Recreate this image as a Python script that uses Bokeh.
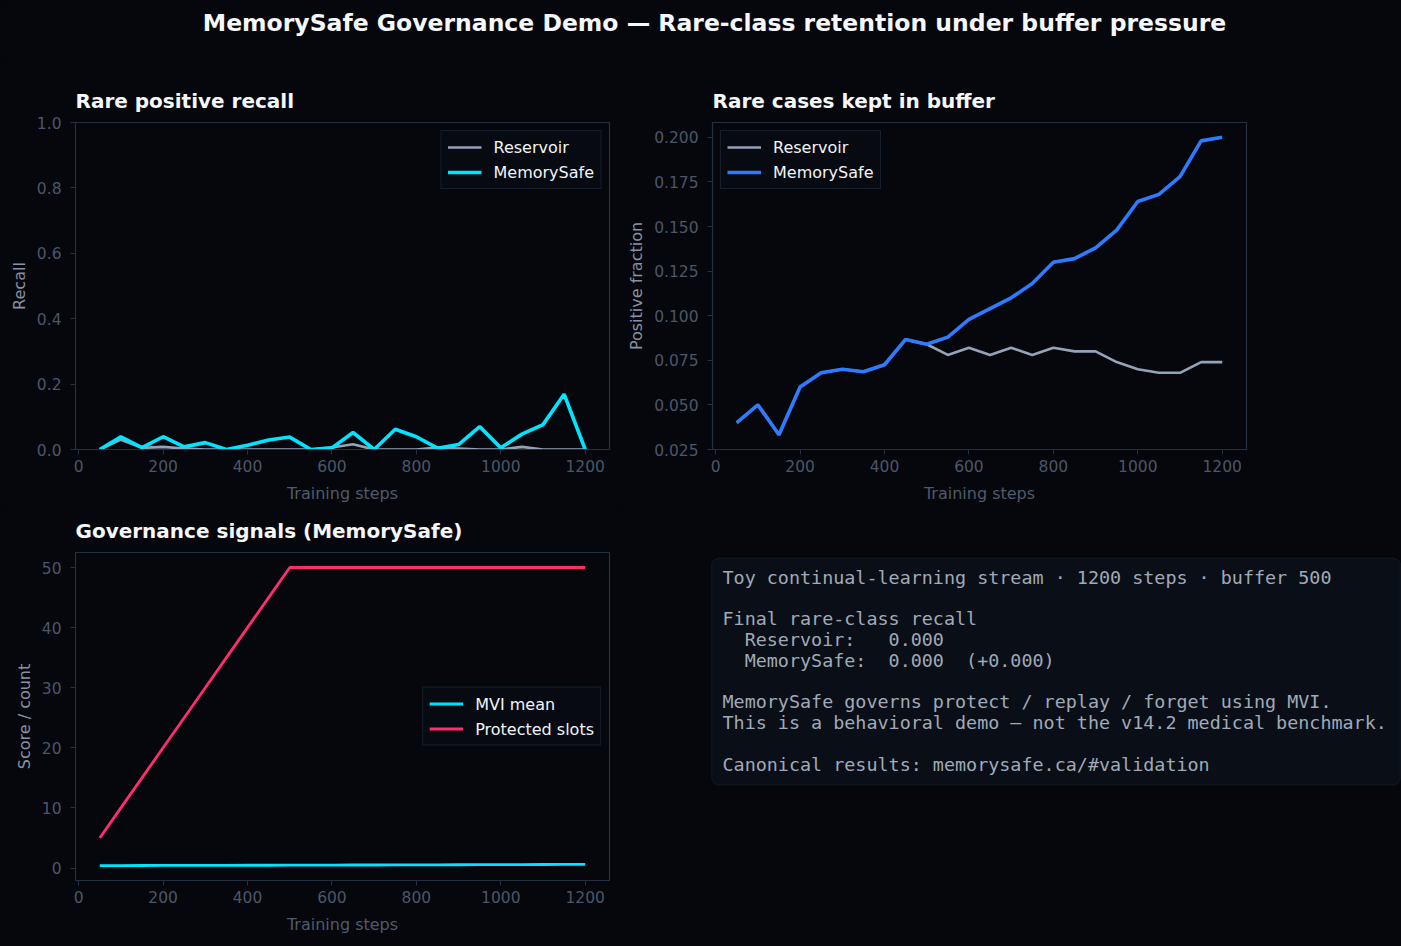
import re
from bokeh.plotting import figure
from bokeh.layouts import column, row
from bokeh.models import Range1d, FixedTicker, NumeralTickFormatter, BoxAnnotation, ColumnDataSource
from bokeh.core.properties import value
from bokeh.embed import file_html
from bokeh.resources import INLINE

# ---------------- data ----------------
steps = [50, 100, 150, 200, 250, 300, 350, 400, 450, 500, 550, 600,
         650, 700, 750, 800, 850, 900, 950, 1000, 1050, 1100, 1150, 1200]

reservoir_recall = [0.0, 0.030, 0.005, 0.008, 0.003, 0.0, 0.0, 0.0, 0.0, 0.0, 0.0, 0.006,
                    0.016, 0.0, 0.0, 0.0, 0.006, 0.003, 0.0, 0.0, 0.008, 0.0, 0.0, 0.0]
memsafe_recall = [0.0, 0.039, 0.006, 0.039, 0.008, 0.021, 0.0, 0.013, 0.029, 0.038, 0.0, 0.005,
                  0.052, 0.0, 0.062, 0.039, 0.004, 0.015, 0.070, 0.005, 0.047, 0.076, 0.169, 0.0]

reservoir_frac = [0.040, 0.050, 0.0333, 0.060, 0.068, 0.070, 0.0686, 0.0725, 0.0867, 0.084, 0.078, 0.082,
                  0.078, 0.082, 0.078, 0.082, 0.080, 0.080, 0.074, 0.070, 0.068, 0.068, 0.074, 0.074]
memsafe_frac = [0.040, 0.050, 0.0333, 0.060, 0.068, 0.070, 0.0686, 0.0725, 0.0867, 0.084, 0.088, 0.098,
                0.104, 0.110, 0.118, 0.130, 0.132, 0.138, 0.148, 0.164, 0.168, 0.178, 0.198, 0.200]

mvi_mean = [0.40, 0.41, 0.42, 0.43, 0.43, 0.44, 0.45, 0.46, 0.46, 0.47, 0.48, 0.49,
            0.50, 0.50, 0.51, 0.52, 0.53, 0.54, 0.55, 0.56, 0.57, 0.58, 0.59, 0.60]
protected_slots = [5, 10, 15, 20, 25, 30, 35, 40, 45, 50, 50, 50,
                   50, 50, 50, 50, 50, 50, 50, 50, 50, 50, 50, 50]

x_ticks = [0, 200, 400, 600, 800, 1000, 1200]
recall_ticks = [0.0, 0.2, 0.4, 0.6, 0.8, 1.0]
frac_ticks = [0.025, 0.050, 0.075, 0.100, 0.125, 0.150, 0.175, 0.200]
score_ticks = [0, 10, 20, 30, 40, 50]

suptitle = "MemorySafe Governance Demo \u2014 Rare-class retention under buffer pressure"
panel_lines = [
    "Toy continual-learning stream \u00b7 1200 steps \u00b7 buffer 500",
    "",
    "Final rare-class recall",
    "  Reservoir:   0.000",
    "  MemorySafe:  0.000  (+0.000)",
    "",
    "MemorySafe governs protect / replay / forget using MVI.",
    "This is a behavioral demo \u2014 not the v14.2 medical benchmark.",
    "",
    "Canonical results: memorysafe.ca/#validation",
]

# ---------------- style ----------------
BG = "#05070c"
SPINE = "#243040"
TICK_TXT = "#4b5668"
XLAB = "#4f5a6c"
YLAB = "#8892a4"
TITLE_C = "#f5f7fa"
FONT = "DejaVu Sans"
C_RES = "#94a3b8"
C_CYAN = "#00e5ff"
C_BLUE = "#2f7bff"
C_PINK = "#ff2d6f"


def make_fig(width, height, yr, borders, title):
    left, right, top, bottom = borders
    p = figure(width=width, height=height, x_range=Range1d(-7.5, 1257.5), y_range=yr,
               output_backend="svg", toolbar_location=None,
               min_border_left=left, min_border_right=right,
               min_border_top=top, min_border_bottom=bottom,
               background_fill_color=BG, border_fill_color=BG,
               outline_line_color=SPINE, outline_line_width=1.2, title=title)
    p.title.align = "left"
    p.title.vertical_align = "bottom"
    p.title.text_font = FONT
    p.title.text_font_size = "20px"
    p.title.text_font_style = "bold"
    p.title.text_color = TITLE_C
    p.title.standoff = 19
    p.grid.visible = False
    for ax in p.axis:
        ax.axis_line_color = SPINE
        ax.major_tick_line_color = SPINE
        ax.major_tick_out = 5
        ax.major_tick_in = 0
        ax.minor_tick_line_color = None
        ax.major_label_text_font = FONT
        ax.major_label_text_font_size = "15.5px"
        ax.major_label_text_color = TICK_TXT
        ax.major_label_standoff = 5
        ax.axis_label_text_font = FONT
        ax.axis_label_text_font_size = "16px"
        ax.axis_label_text_font_style = "normal"
        ax.axis_label_standoff = 9
    p.yaxis.major_label_standoff = 9
    p.yaxis.axis_label_standoff = 5
    p.xaxis.ticker = FixedTicker(ticks=x_ticks)
    p.xaxis.axis_label = "Training steps"
    p.xaxis.axis_label_text_color = XLAB
    p.yaxis.axis_label_text_color = YLAB
    return p


def style_legend(p, loc):
    lg = p.legend[0]
    lg.location = loc
    lg.background_fill_color = "#070a11"
    lg.background_fill_alpha = 1.0
    lg.border_line_color = "#263142"
    lg.border_line_width = 1.2
    lg.label_text_font = FONT
    lg.label_text_font_size = "16px"
    lg.label_text_color = "#f1f4f8"
    lg.glyph_width = 34
    lg.glyph_height = 20
    lg.label_height = 20
    lg.label_standoff = 12
    lg.spacing = 5
    lg.padding = 6
    lg.margin = 8


src = ColumnDataSource(dict(steps=steps, rr=reservoir_recall, mr=memsafe_recall,
                            rf=reservoir_frac, mf=memsafe_frac,
                            mvi=mvi_mean, prot=protected_slots))

# header
head = figure(width=1401, height=60, x_range=Range1d(0, 1401), y_range=Range1d(60, 0),
              output_backend="svg", toolbar_location=None, x_axis_type=None, y_axis_type=None,
              min_border=0, min_border_left=0, min_border_right=0, min_border_top=0, min_border_bottom=0,
              background_fill_color=BG, border_fill_color=BG, outline_line_color=None)
head.grid.visible = False
head.text(x=[714], y=[22], text=[suptitle], text_font=value(FONT), text_font_size="23.5px",
          text_font_style="bold", text_color=TITLE_C, text_align="center", text_baseline="middle")

# row 1 spans page y 60..505, row 2 spans 505..946
# panel 1: recall
p1 = make_fig(620, 445, Range1d(0, 1), (75, 11, 62, 56), "Rare positive recall")
p1.line("steps", "rr", source=src, color=C_RES, line_width=2.6, legend_label="Reservoir")
p1.line("steps", "mr", source=src, color=C_CYAN, line_width=3.6, legend_label="MemorySafe")
p1.yaxis.ticker = FixedTicker(ticks=recall_ticks)
p1.yaxis.formatter = NumeralTickFormatter(format="0.0")
p1.yaxis.axis_label = "Recall"
style_legend(p1, "top_right")

# panel 2: buffer fraction
p2 = make_fig(781, 445, Range1d(0.025, 0.2083), (92, 155, 62, 56), "Rare cases kept in buffer")
p2.line("steps", "rf", source=src, color=C_RES, line_width=2.6, legend_label="Reservoir")
p2.line("steps", "mf", source=src, color=C_BLUE, line_width=3.6, legend_label="MemorySafe")
p2.yaxis.ticker = FixedTicker(ticks=frac_ticks)
p2.yaxis.formatter = NumeralTickFormatter(format="0.000")
p2.yaxis.axis_label = "Positive fraction"
style_legend(p2, "top_left")

# panel 3: governance signals
p3 = make_fig(620, 441, Range1d(-2.08, 52.5), (75, 11, 47, 66), "Governance signals (MemorySafe)")
p3.line("steps", "mvi", source=src, color=C_CYAN, line_width=2.8, legend_label="MVI mean")
p3.line("steps", "prot", source=src, color=C_PINK, line_width=2.8, legend_label="Protected slots")
p3.yaxis.ticker = FixedTicker(ticks=score_ticks)
p3.yaxis.formatter = NumeralTickFormatter(format="0")
p3.yaxis.axis_label = "Score / count"
style_legend(p3, "center_right")

# text panel (frame aligned with p3's frame: page y 552..880, page x 620..1401)
tp = figure(width=781, height=441, x_range=Range1d(620, 1401), y_range=Range1d(880, 552),
            output_backend="svg", toolbar_location=None, x_axis_type=None, y_axis_type=None,
            min_border=0, min_border_left=0, min_border_right=0, min_border_top=47, min_border_bottom=66,
            background_fill_color=BG, border_fill_color=BG, outline_line_color=None)
tp.grid.visible = False
box = BoxAnnotation(left=711, right=1400, top=557.5, bottom=784.5, fill_color="#0a0f17", fill_alpha=1.0,
                    line_color="#1f2a38", line_width=1.5, border_radius=8, level="underlay")
tp.add_layout(box)


def keep_spaces(s):
    # leading spaces and runs of spaces would collapse in SVG; keep them as no-break spaces
    s = re.sub(r"^ +", lambda m: "\u00a0" * len(m.group(0)), s)
    return re.sub(r" {2,}", lambda m: "\u00a0" * len(m.group(0)), s)


line_pitch = 20.8
idx = [i for i, t in enumerate(panel_lines) if t]
tsrc = ColumnDataSource(dict(x=[722.0] * len(idx),
                             y=[576.5 + line_pitch * i for i in idx],
                             t=[keep_spaces(panel_lines[i]) for i in idx]))
tp.text(x="x", y="y", text="t", source=tsrc, text_font=value("DejaVu Sans Mono"),
        text_font_size="18.4px", text_color="#a0aab8", text_align="left", text_baseline="middle")

layout = column(head, row(p1, p2), row(p3, tp), styles={"background-color": BG})

with open("out.html", "w") as f:
    f.write(file_html(layout, INLINE, title="MemorySafe Governance Demo"))
